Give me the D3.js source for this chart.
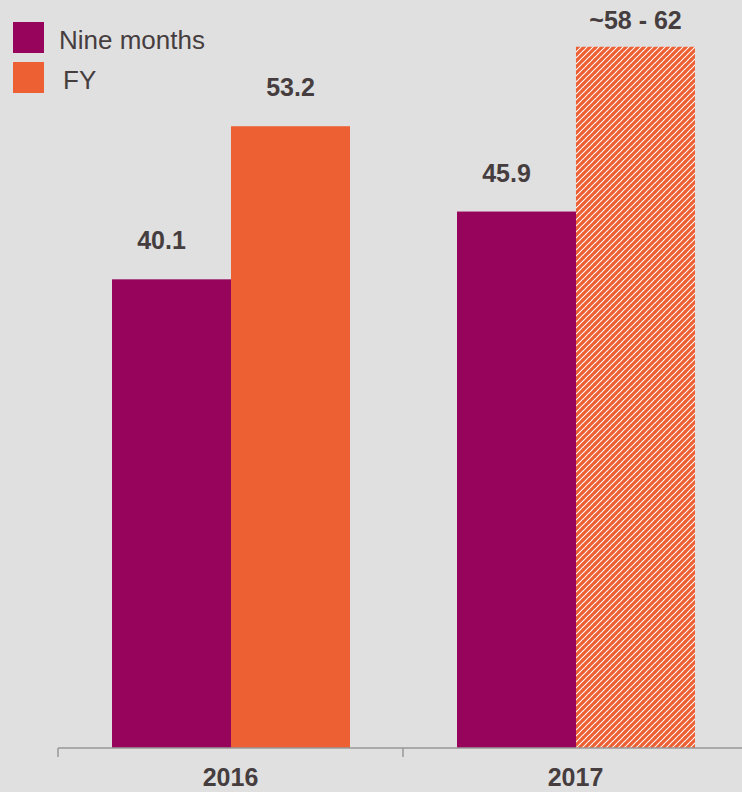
<!DOCTYPE html>
<html>
<head>
<meta charset="utf-8">
<script src="https://cdn.jsdelivr.net/npm/d3@7"></script>
<style>
  html, body { margin: 0; padding: 0; background: #e0e0e0; }
  svg { display: block; font-family: Arial, "Liberation Sans", sans-serif; }
</style>
</head>
<body>
<script>
const width = 742
const height = 792

// data
const years = ['2016', '2017']
const series = ['Nine months', 'FY']
const nineMonths = [40.1, 45.9]
const fullYear = [53.2, 60]
const fyLabels = ['53.2', '~58 - 62']
const nineLabels = ['40.1', '45.9']
const estimated = [false, true]   // 2017 FY is a guidance range, drawn hatched

const purple = '#96045c',
    orange = '#ec6033',
    textColor = '#463d3f';

const svg = d3.select('body').append('svg')
    .attr('width', width)
    .attr('height', height);

svg.append('rect')
    .attr('width', width).attr('height', height)
    .attr('fill', '#e0e0e0');

// hatch for the estimated bar
const pat = svg.append('defs').append('pattern')
    .attr('id', 'hatch')
    .attr('patternUnits', 'userSpaceOnUse')
    .attr('width', 6).attr('height', 6);
pat.append('rect').attr('width', 6).attr('height', 6).attr('fill', '#fff');
pat.append('path')
    .attr('d', 'M-1,1 l2,-2 M0,6 l6,-6 M5,7 l2,-2')
    .attr('stroke', orange)
    .attr('stroke-width', 3.2);

const baseY = 748;
const x0 = d3.scaleBand().domain(years).range([58, 748]);
const x1 = d3.scaleBand().domain(series).range([54, x0.bandwidth() - 53]);
const y = d3.scaleLinear().domain([0, 64]).range([baseY, 0]);

const rows = years.map((yr, i) => ({
    year: yr,
    bars: [
        { key: 'Nine months', value: nineMonths[i], label: nineLabels[i], fill: purple, dx: -10 },
        { key: 'FY', value: fullYear[i], label: fyLabels[i], fill: estimated[i] ? 'url(#hatch)' : orange, dx: 0 }
    ]
}));

const groups = svg.selectAll('g.year')
    .data(rows)
    .join('g')
    .attr('class', 'year')
    .attr('transform', d => `translate(${x0(d.year)},0)`);

groups.selectAll('rect')
    .data(d => d.bars)
    .join('rect')
    .attr('x', d => x1(d.key))
    .attr('width', x1.bandwidth())
    .attr('y', d => y(d.value))
    .attr('height', d => baseY - y(d.value))
    .attr('fill', d => d.fill);

// value labels, kept inside the top of the frame
groups.selectAll('text.val')
    .data(d => d.bars)
    .join('text')
    .attr('class', 'val')
    .attr('x', d => x1(d.key) + x1.bandwidth() / 2 + d.dx)
    .attr('y', d => Math.max(29, y(d.value) - 30))
    .attr('text-anchor', 'middle')
    .attr('font-size', 25)
    .attr('font-weight', 'bold')
    .attr('fill', textColor)
    .text(d => d.label);

// x axis
const axis = svg.append('g')
    .attr('transform', `translate(0,${baseY})`)
    .call(d3.axisBottom(x0).tickSize(0).tickPadding(20));
axis.select('.domain').remove();
axis.selectAll('text')
    .attr('font-size', 25)
    .attr('font-weight', 'bold')
    .attr('font-family', 'Arial, "Liberation Sans", sans-serif')
    .attr('fill', textColor);

axis.append('line')
    .attr('x1', x0.range()[0]).attr('x2', width)
    .attr('stroke', '#999').attr('stroke-width', 1.5);
axis.selectAll('line.sep')
    .data(years)
    .join('line')
    .attr('class', 'sep')
    .attr('x1', d => x0(d)).attr('x2', d => x0(d))
    .attr('y1', 0).attr('y2', 9)
    .attr('stroke', '#999').attr('stroke-width', 1.5);

// legend
const legend = svg.append('g').attr('transform', 'translate(13,22)');
const legendItems = legend.selectAll('g')
    .data(series)
    .join('g')
    .attr('transform', (d, i) => `translate(0,${i * 40})`);
legendItems.append('rect')
    .attr('width', 31).attr('height', 31)
    .attr('fill', (d, i) => i === 0 ? purple : orange);
legendItems.append('text')
    .attr('x', (d, i) => i === 0 ? 46 : 50)
    .attr('y', 27)
    .attr('font-size', 26)
    .attr('fill', textColor)
    .text(d => d);
</script>
</body>
</html>
